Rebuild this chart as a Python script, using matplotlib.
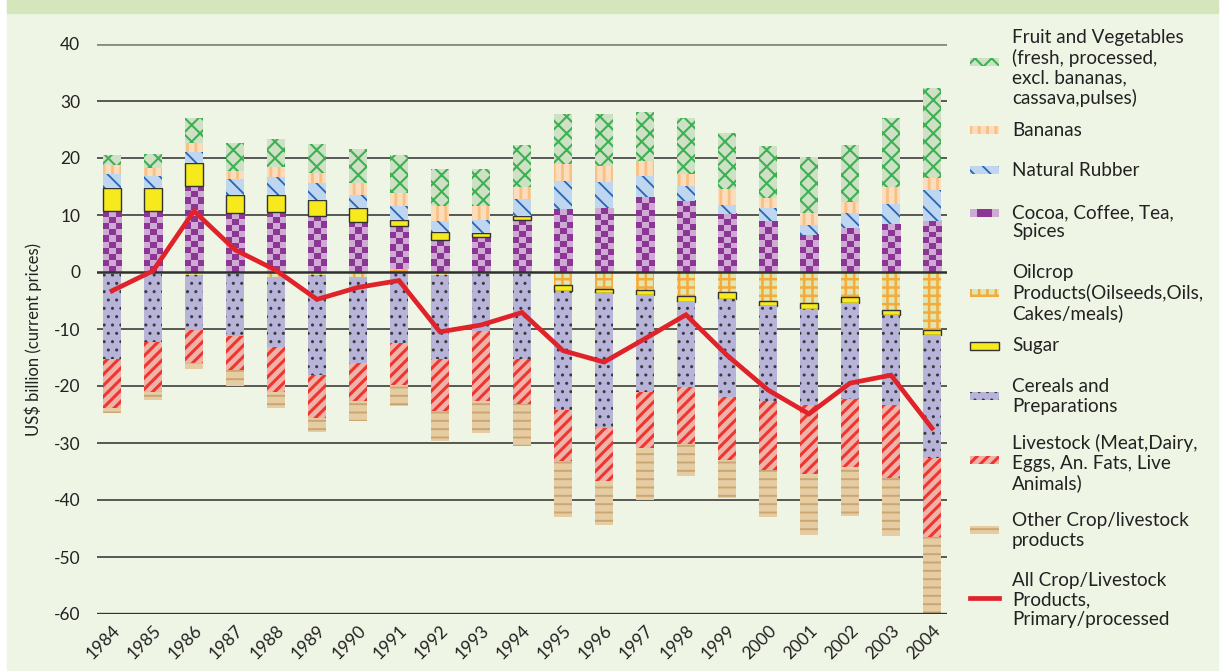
import matplotlib.pyplot as plt
import numpy as np
from matplotlib.patches import Rectangle
from matplotlib.lines import Line2D
from matplotlib.colors import ListedColormap

years = np.arange(1984, 2005)

# US$ billion
fruit = [1.7, 2.4, 4.3, 4.9, 4.9, 5.1, 5.9, 6.7, 6.4, 6.5, 7.3,
         8.8, 9.2, 8.6, 9.8, 9.8, 9.2, 9.8, 10.1, 12.1, 15.7]
bananas = [1.6, 1.5, 1.6, 1.5, 1.8, 1.7, 2.1, 2.2, 2.6, 2.3, 2.2,
           2.9, 2.8, 2.7, 2.1, 2.8, 1.6, 2.1, 1.8, 3.0, 2.2]
rubber = [2.4, 2.0, 1.9, 2.8, 3.1, 3.0, 2.2, 2.5, 2.0, 2.4, 3.0,
          5.0, 4.6, 3.7, 2.6, 1.5, 2.4, 1.7, 2.7, 3.6, 5.3]
cocoa = [10.7, 10.7, 15.1, 10.3, 10.6, 9.9, 8.8, 7.5, 5.6, 6.2, 9.2,
         11.0, 11.2, 13.1, 12.5, 10.2, 8.9, 6.5, 7.7, 8.4, 9.0]
oilcrop = [-0.3, -0.3, -0.5, -0.4, -0.8, -0.5, -0.8, 0.6, -0.5, -0.3, -0.3,
           -2.3, -2.9, -3.2, -4.2, -3.5, -5.0, -5.5, -4.4, -6.7, -10.2]
sugar = [4.1, 4.1, 4.1, 3.2, 2.9, 2.8, 2.5, 1.0, 1.4, 0.6, 0.6,
         -1.0, -0.8, -0.8, -1.0, -1.2, -0.9, -1.0, -1.0, -0.8, -0.9]
cereals = [-15.0, -12.0, -9.7, -10.8, -12.4, -17.5, -15.1, -12.4, -14.8, -10.1, -15.0,
           -20.9, -23.7, -17.0, -15.0, -17.2, -16.7, -16.9, -16.9, -15.8, -21.6]
livestock = [-8.5, -8.7, -5.8, -6.0, -7.8, -7.7, -6.7, -7.4, -9.0, -12.3, -7.9,
             -8.9, -9.2, -9.9, -10.0, -11.1, -12.1, -12.0, -11.9, -12.9, -13.8]
other = [-1.0, -1.5, -1.1, -2.8, -2.9, -2.4, -3.5, -3.7, -5.3, -5.5, -7.3,
         -9.8, -7.7, -9.1, -5.6, -6.6, -8.3, -10.7, -8.6, -10.1, -13.4]
total = [-3.3, 0.2, 10.7, 3.9, 0.3, -4.8, -2.7, -1.5, -10.5, -9.3, -7.1,
         -13.8, -15.8, -11.7, -7.5, -14.6, -20.7, -24.9, -19.5, -18.1, -27.4]

labels = {
    'fruit': 'Fruit and Vegetables\n(fresh, processed,\nexcl. bananas,\ncassava,pulses)',
    'bananas': 'Bananas',
    'rubber': 'Natural Rubber',
    'cocoa': 'Cocoa, Coffee, Tea,\nSpices',
    'oilcrop': 'Oilcrop\nProducts(Oilseeds,Oils,\nCakes/meals)',
    'sugar': 'Sugar',
    'cereals': 'Cereals and\nPreparations',
    'livestock': 'Livestock (Meat,Dairy,\nEggs, An. Fats, Live\nAnimals)',
    'other': 'Other Crop/livestock\nproducts',
    'total': 'All Crop/Livestock\nProducts,\nPrimary/processed',
}

styles = {
    'fruit': dict(fc='#cfe1c5', ec='#3cb153', hatch='xx', hlw=1.5),
    'bananas': dict(fc='#fbdcbc', ec='#f8c083', hatch='||', hlw=2.0),
    'rubber': dict(fc='#bed6ef', ec='#2a64b3', hatch='\\\\', hlw=1.3),
    'cocoa': dict(fc='#cfaad5', ec='#cfaad5', hatch=None, hlw=1.0),
    'oilcrop': dict(fc='#dfe6b6', ec='#f6aa3a', hatch='++', hlw=1.8),
    'sugar': dict(fc='#f6e91c', ec='#333333', hatch=None, hlw=1.0),
    'cereals': dict(fc='#b7b3d9', ec='#3a3a3a', hatch='..', hlw=1.0),
    'livestock': dict(fc='#efb3a9', ec='#ee3530', hatch='///', hlw=2.2),
    'other': dict(fc='#e5cca2', ec='#caa673', hatch='--', hlw=1.4),
}

plt.rcParams['font.family'] = ['Lato', 'DejaVu Sans']
plt.rcParams['hatch.linewidth'] = 1.6

W, H = 1223, 671
fig = plt.figure(figsize=(W / 100, H / 100), dpi=100)
fig.patch.set_facecolor('white')
fig.patches.append(Rectangle((7 / W, 0), (1218 - 7) / W, 1, transform=fig.transFigure,
                             color='#eff5e5', zorder=-10))
fig.patches.append(Rectangle((7 / W, 1 - 13 / H), (1218 - 7) / W, 13 / H,
                             transform=fig.transFigure, color='#d5e6bd', zorder=-9))

ax = fig.add_axes([97 / W, 57 / H, 850 / W, 570 / H])
ax.set_facecolor('none')
for s in ax.spines.values():
    s.set_visible(False)

checker_cmap = ListedColormap(['#cfaad5', '#8b3594'])


def draw_cocoa(bars):
    for b in bars:
        x0, w = b.get_x(), b.get_width()
        y0, h = b.get_y(), b.get_height()
        if h <= 0:
            continue
        nrows = max(1, int(round(h / 1.05)))
        arr = (np.add.outer(np.arange(nrows), np.arange(3)) % 2)
        ax.imshow(arr, cmap=checker_cmap, extent=(x0, x0 + w, y0, y0 + h),
                  origin='lower', interpolation='nearest', aspect='auto', zorder=2)


series = [('oilcrop', oilcrop), ('cocoa', cocoa), ('sugar', sugar), ('cereals', cereals),
          ('livestock', livestock), ('other', other), ('rubber', rubber),
          ('bananas', bananas), ('fruit', fruit)]

pos = np.zeros(len(years))
neg = np.zeros(len(years))
width = 0.44
for name, vals in series:
    v = np.array(vals)
    bottom = np.where(v >= 0, pos, neg)
    st = styles[name]
    lw = 1.0 if name == 'sugar' else 0
    bars = ax.bar(years, v, bottom=bottom, width=width, color=st['fc'],
                  edgecolor=st['ec'], hatch=st['hatch'], linewidth=lw, zorder=2)
    for b in bars:
        if hasattr(b, 'set_hatch_linewidth'):
            b.set_hatch_linewidth(st['hlw'])
    if name == 'cocoa':
        draw_cocoa(bars)
    pos = pos + np.where(v >= 0, v, 0)
    neg = neg + np.where(v < 0, v, 0)

# grid
for yv in range(-50, 31, 10):
    if yv != 0:
        ax.axhline(yv, color='#2e2e2e', lw=1.1, zorder=0)
ax.axhline(40, color='#8a8a80', lw=2.0, zorder=0)
ax.axhline(-60, color='#333333', lw=2.4, zorder=3)
ax.axhline(0, color='#303030', lw=1.8, zorder=3)

ax.plot(years, total, color='#e0232a', lw=3.4, zorder=5, solid_joinstyle='miter')

ax.set_xlim(1983.634, 2004.366)
ax.set_ylim(-60, 40)
yt = list(range(-60, 41, 10))
ax.set_yticks(yt)
ax.set_yticklabels([str(t) for t in yt], fontsize=12.5, color='#222222')
ax.set_xticks(years)
ax.set_xticklabels([str(y) for y in years], rotation=45, ha='right',
                   rotation_mode='anchor', fontsize=12.5, color='#222222')
ax.tick_params(axis='both', length=0)
ax.tick_params(axis='y', pad=12)
ax.tick_params(axis='x', pad=6)

fig.text(33 / W, 1 - 340 / H, 'US$ billion (current prices)', rotation=90,
         ha='center', va='center', fontsize=12, color='#222222')

# legend drawn by hand
legend_rows = [('fruit', 62, 68), ('bananas', 130, 130), ('rubber', 170, 170),
               ('cocoa', 213, 222), ('oilcrop', 293, 293), ('sugar', 346, 346),
               ('cereals', 396, 396.5), ('livestock', 460, 463), ('other', 530, 530.5),
               ('total', 598, 600)]
hx0, hx1, hh = 970, 999, 8
for name, hy, ty in legend_rows:
    fig.text(1012 / W, 1 - ty / H, labels[name], ha='left', va='center',
             fontsize=13.6, color='#222222', linespacing=1.16)
    if name == 'total':
        fig.lines.append(Line2D([hx0 / W, hx1 / W], [1 - hy / H, 1 - hy / H],
                                transform=fig.transFigure, color='#e0232a', lw=3.4))
        continue
    st = styles[name]
    if name == 'cocoa':
        cax = fig.add_axes([hx0 / W, 1 - (hy + hh / 2) / H, (hx1 - hx0) / W, hh / H])
        cax.imshow([[0, 1, 1, 0]], cmap=checker_cmap, aspect='auto', interpolation='nearest')
        cax.axis('off')
        continue
    r = Rectangle((hx0 / W, 1 - (hy + hh / 2) / H), (hx1 - hx0) / W, hh / H,
                  transform=fig.transFigure, facecolor=st['fc'], edgecolor=st['ec'],
                  hatch=st['hatch'], linewidth=1.0 if name == 'sugar' else 0)
    if hasattr(r, 'set_hatch_linewidth'):
        r.set_hatch_linewidth(st['hlw'])
    fig.patches.append(r)

fig.savefig('out.png', dpi=100, facecolor=fig.get_facecolor())
